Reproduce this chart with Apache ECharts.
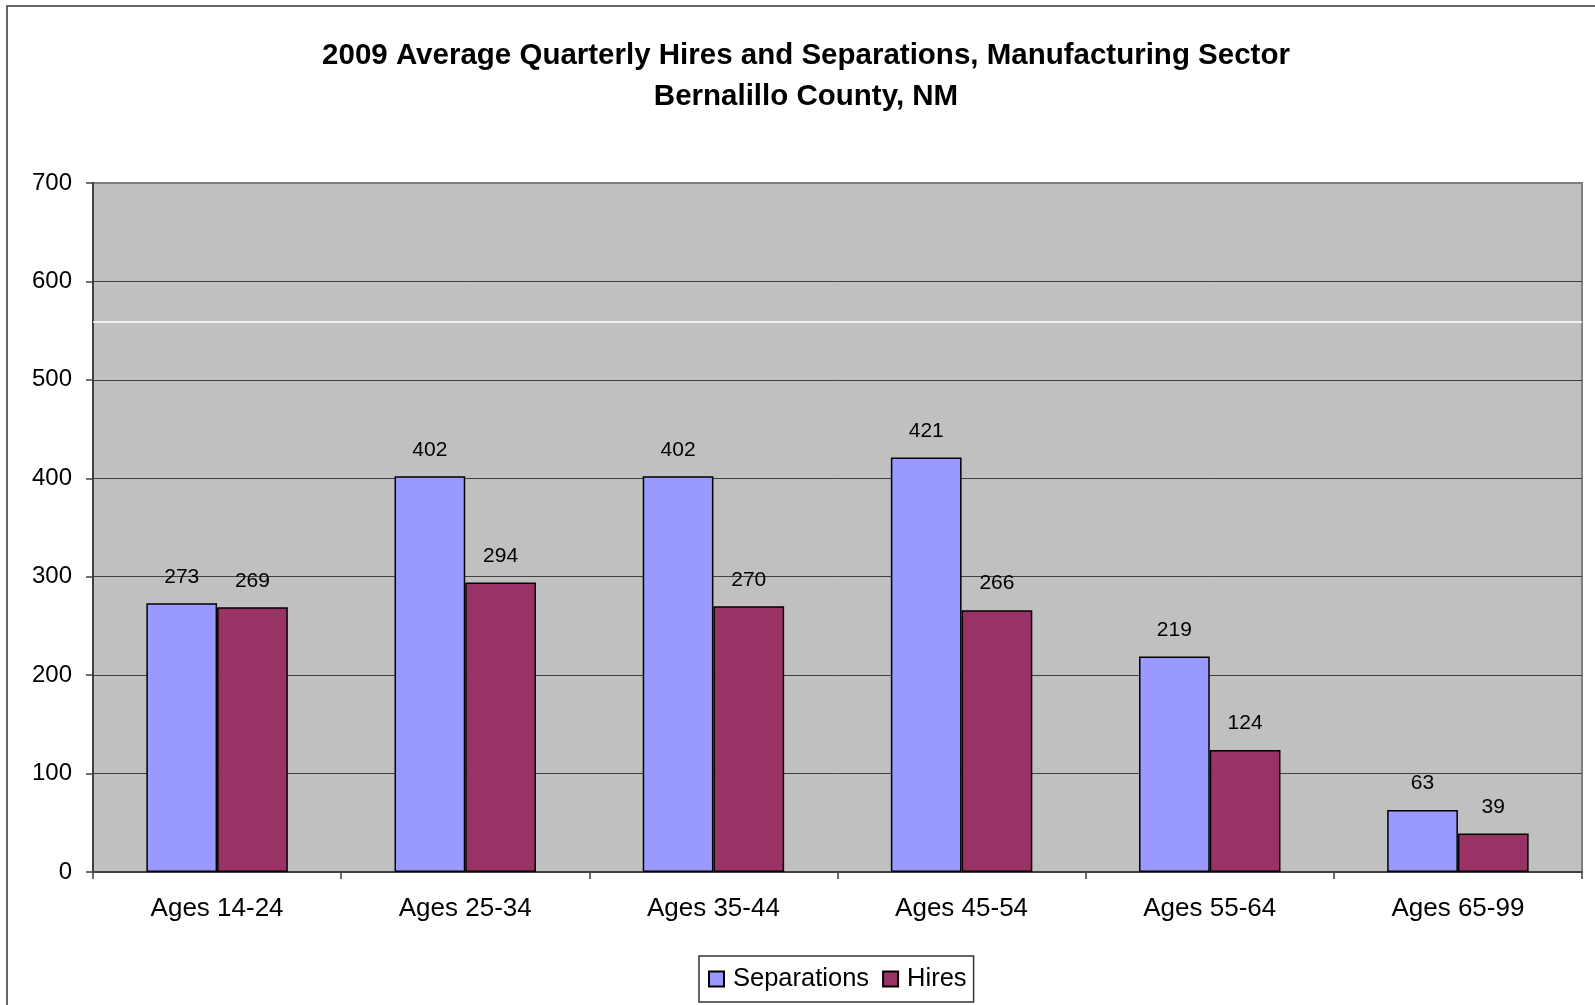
<!DOCTYPE html>
<html>
<head>
<meta charset="utf-8">
<script src="https://cdn.jsdelivr.net/npm/echarts@6/dist/echarts.min.js"></script>
<style>
  html, body { margin: 0; padding: 0; background: #ffffff; }
  #chart { width: 1595px; height: 1005px; }
</style>
</head>
<body>
<div id="chart"></div>
<script>
const categories = ['Ages 14-24', 'Ages 25-34', 'Ages 35-44', 'Ages 45-54', 'Ages 55-64', 'Ages 65-99'];
const separations = [273, 402, 402, 421, 219, 63];
const hires = [269, 294, 270, 266, 124, 39];
const yTicks = { min: 0, max: 700, interval: 100 };
const artifactLineValue = 559;
const titleLines = ['2009 Average Quarterly Hires and Separations, Manufacturing Sector', 'Bernalillo County, NM'];

const FONT = "'Liberation Sans', Arial, sans-serif";
const chart = echarts.init(document.getElementById('chart'), null, { renderer: 'canvas' });

const labelCfg = {
  show: true,
  position: 'top',
  distance: 16,
  color: '#000',
  fontFamily: FONT,
  fontSize: 21
};

chart.setOption({
  backgroundColor: '#ffffff',
  animation: false,
  textStyle: { fontFamily: FONT },
  title: {
    text: titleLines.join('\n'),
    left: 806,
    top: 35,
    padding: 0,
    textAlign: 'center',
    textStyle: {
      fontFamily: FONT,
      fontWeight: 'bold',
      fontSize: 29.5,
      lineHeight: 41,
      color: '#000'
    }
  },
  graphic: [{
    type: 'rect',
    silent: true,
    shape: { x: 7, y: 6, width: 1640, height: 1040 },
    style: { fill: 'none', stroke: '#333', lineWidth: 1.5 },
    z: 100
  }],
  legend: {
    data: ['Separations', 'Hires'],
    left: 699,
    top: 956,
    padding: [10, 7, 10, 9],
    itemGap: 13,
    itemWidth: 15,
    itemHeight: 15,
    icon: 'rect',
    borderColor: '#333',
    borderWidth: 1.5,
    textStyle: { fontFamily: FONT, fontSize: 25.5, color: '#000', padding: [0, 0, 0, 4] }
  },
  grid: {
    left: 93,
    right: 13,
    top: 183,
    bottom: 133,
    show: true,
    backgroundColor: '#C0C0C0',
    borderColor: '#808080',
    borderWidth: 2
  },
  xAxis: {
    type: 'category',
    data: categories,
    axisLine: { show: true, lineStyle: { color: '#404040', width: 2 } },
    axisTick: { show: true, length: 7, lineStyle: { color: '#404040', width: 1.5 } },
    axisLabel: { color: '#000', fontFamily: FONT, fontSize: 26, margin: 24 },
    splitLine: { show: false }
  },
  yAxis: {
    type: 'value',
    min: yTicks.min,
    max: yTicks.max,
    interval: yTicks.interval,
    axisLine: { show: true, lineStyle: { color: '#404040', width: 2 } },
    axisTick: { show: true, length: 7, lineStyle: { color: '#404040', width: 1.5 } },
    axisLabel: { color: '#000', fontFamily: FONT, fontSize: 24, margin: 21, padding: [4, 0, 0, 0] },
    splitLine: {
      show: true,
      lineStyle: {
        color: ['#404040', '#404040', '#404040', '#404040', '#404040', '#404040', '#404040', '#808080'],
        width: 1
      }
    }
  },
  series: [
    {
      name: 'Separations',
      type: 'bar',
      data: separations,
      barGap: '0%',
      barCategoryGap: '43%',
      itemStyle: { color: '#9999FF', borderColor: '#000', borderWidth: 1.5 },
      label: labelCfg,
      markLine: {
        silent: true,
        symbol: 'none',
        label: { show: false },
        lineStyle: { color: '#ffffff', width: 1.5, type: 'solid' },
        data: [{ yAxis: artifactLineValue }]
      }
    },
    {
      name: 'Hires',
      type: 'bar',
      data: hires,
      barGap: '0%',
      barCategoryGap: '43%',
      itemStyle: { color: '#993366', borderColor: '#000', borderWidth: 1.5 },
      label: labelCfg
    }
  ]
});
</script>
</body>
</html>
